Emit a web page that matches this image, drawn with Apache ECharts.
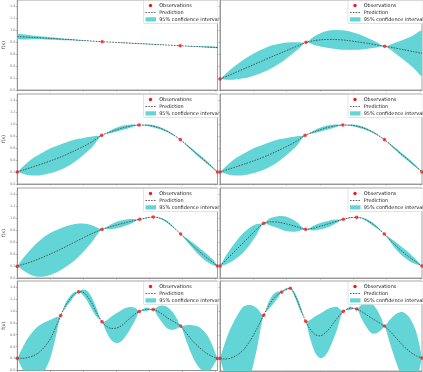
<!DOCTYPE html>
<html><head><meta charset="utf-8">
<script src="https://cdn.jsdelivr.net/npm/echarts@6/dist/echarts.min.js"></script>
<style>html,body{margin:0;padding:0;background:#fff}#c{width:423px;height:372px}</style>
</head><body><div id="c"></div><script>
// ---------- data ----------
const yTicks = [0, 0.2, 0.4, 0.6, 0.8, 1.0, 1.2, 1.4];
const xTicks = [0, 1, 2, 3, 4, 5, 6];
const legendLabels = ['Observations', 'Prediction', '95% confidence interval'];
const yLabel = 'f(x)';

// panel 1 (row 1, left)
const obsX1 = [2.57, 4.93];
const obsY1 = [0.805, 0.738];
const curveX1 = [0, 0.5, 1, 1.5, 2, 2.57, 3.2, 3.8, 4.4, 4.93, 5.5, 6.06];
const mean1 = [0.89, 0.875, 0.86, 0.843, 0.825, 0.805, 0.787, 0.77, 0.753, 0.738, 0.722, 0.708];
const half1 = [0.04, 0.03, 0.021, 0.013, 0.006, 0, 0.003, 0.004, 0.003, 0, 0.006, 0.012];

// panel 2 (row 1, right)
const obsX2 = [0, 2.58, 4.94];
const obsY2 = [0.183, 0.794, 0.728];
const curveX2 = [0, 0.25, 0.5, 0.75, 1, 1.29, 1.6, 1.9, 2.2, 2.4, 2.58, 2.8, 3.1, 3.4, 3.75, 4.1, 4.4, 4.7, 4.94, 5.2, 5.5, 5.8, 6.06];
const mean2 = [0.183, 0.24, 0.30, 0.36, 0.42, 0.49, 0.565, 0.635, 0.705, 0.75, 0.794, 0.82, 0.84, 0.843, 0.83, 0.805, 0.78, 0.752, 0.728, 0.705, 0.672, 0.64, 0.611];
const half2 = [0, 0.07, 0.12, 0.16, 0.185, 0.195, 0.185, 0.15, 0.09, 0.045, 0, 0.065, 0.125, 0.155, 0.16, 0.135, 0.095, 0.045, 0, 0.07, 0.165, 0.27, 0.37];

// panels 3 and 4 (row 2)
const obsX3 = [0, 2.555, 3.685, 4.935, 6.06];
const obsY3 = [0.2, 0.811, 0.983, 0.739, 0.2];
const curveX3 = [0, 0.25, 0.5, 0.8, 1.1, 1.4, 1.7, 2.0, 2.3, 2.555, 2.85, 3.15, 3.45, 3.685, 4.0, 4.3, 4.6, 4.935, 5.25, 5.5, 5.8, 6.06];
const mean3 = [0.2, 0.245, 0.29, 0.345, 0.405, 0.47, 0.545, 0.625, 0.715, 0.811, 0.875, 0.93, 0.968, 0.983, 0.975, 0.935, 0.86, 0.739, 0.59, 0.47, 0.33, 0.2];
const half3 = [0, 0.085, 0.15, 0.19, 0.21, 0.21, 0.19, 0.14, 0.08, 0, 0.025, 0.035, 0.025, 0, 0.015, 0.02, 0.015, 0, 0.02, 0.025, 0.02, 0];

// panel 5 (row 3, left)
const obsX5 = [0, 2.565, 3.705, 4.115, 4.945, 6.06];
const obsY5 = [0.194, 0.811, 0.978, 1.017, 0.733, 0.2];
const curveX5 = [0, 0.25, 0.5, 0.75, 1, 1.28, 1.55, 1.8, 2.05, 2.3, 2.565, 2.8, 3.05, 3.3, 3.5, 3.705, 3.9, 4.115, 4.3, 4.5, 4.7, 4.945, 5.2, 5.45, 5.75, 5.95, 6.06];
const mean5 = [0.2, 0.24, 0.285, 0.34, 0.4, 0.47, 0.545, 0.615, 0.685, 0.75, 0.811, 0.85, 0.89, 0.925, 0.952, 0.978, 1.0, 1.017, 1.0, 0.95, 0.86, 0.733, 0.6, 0.47, 0.33, 0.25, 0.2];
const half5 = [0, 0.14, 0.25, 0.32, 0.35, 0.35, 0.33, 0.29, 0.22, 0.12, 0, 0.035, 0.055, 0.05, 0.03, 0, 0.008, 0, 0.01, 0.015, 0.012, 0, 0.035, 0.06, 0.065, 0.04, 0];

// panel 6 (row 3, right)
const obsX6 = [0, 1.31, 2.57, 3.70, 4.10, 4.93, 6.06];
const obsY6 = [0.2, 0.911, 0.811, 0.978, 1.011, 0.733, 0.2];
const curveX6 = [0, 0.2, 0.4, 0.65, 0.9, 1.1, 1.31, 1.5, 1.75, 2.0, 2.3, 2.57, 2.8, 3.05, 3.3, 3.5, 3.7, 3.9, 4.1, 4.3, 4.5, 4.7, 4.93, 5.2, 5.45, 5.75, 6.06];
const mean6 = [0.2, 0.31, 0.42, 0.56, 0.7, 0.81, 0.911, 0.935, 0.93, 0.9, 0.855, 0.811, 0.83, 0.87, 0.91, 0.945, 0.978, 1.005, 1.011, 0.99, 0.93, 0.85, 0.733, 0.58, 0.45, 0.32, 0.2];
const half6 = [0, 0.08, 0.13, 0.16, 0.14, 0.09, 0, 0.06, 0.1, 0.12, 0.08, 0, 0.04, 0.055, 0.05, 0.03, 0, 0.008, 0, 0.012, 0.025, 0.02, 0, 0.05, 0.07, 0.06, 0];

// panel 7 (row 4, left)
const obsX7 = [0, 1.315, 1.855, 2.565, 3.695, 4.115, 4.945, 6.06];
const obsY7 = [0.206, 0.922, 1.317, 0.817, 0.989, 1.022, 0.744, 0.2];
const curveX7 = [0, 0.15, 0.3, 0.5, 0.65, 0.8, 1.0, 1.15, 1.315, 1.45, 1.6, 1.75, 1.855, 1.95, 2.1, 2.25, 2.4, 2.565, 2.7, 2.85, 3.0, 3.15, 3.3, 3.45, 3.6, 3.695, 3.9, 4.115, 4.25, 4.4, 4.55, 4.7, 4.85, 4.945, 5.1, 5.3, 5.5, 5.7, 5.85, 6.06];
const mean7 = [0.206, 0.205, 0.215, 0.25, 0.3, 0.38, 0.53, 0.71, 0.922, 1.08, 1.2, 1.29, 1.317, 1.32, 1.26, 1.13, 0.97, 0.817, 0.74, 0.705, 0.71, 0.75, 0.82, 0.895, 0.96, 0.989, 1.025, 1.022, 0.99, 0.94, 0.88, 0.83, 0.78, 0.744, 0.64, 0.5, 0.39, 0.3, 0.25, 0.2];
const half7 = [0, 0.17, 0.31, 0.42, 0.45, 0.42, 0.32, 0.18, 0, 0.04, 0.05, 0.03, 0, 0.035, 0.08, 0.1, 0.07, 0, 0.1, 0.2, 0.25, 0.26, 0.23, 0.17, 0.08, 0, 0.03, 0, 0.08, 0.15, 0.18, 0.15, 0.07, 0, 0.12, 0.26, 0.34, 0.33, 0.24, 0];

// panel 8 (row 4, right)
const obsX8 = [0, 1.31, 1.85, 2.11, 2.57, 3.70, 4.10, 4.93, 6.06];
const obsY8 = [0.21, 0.928, 1.317, 1.378, 0.828, 0.994, 1.033, 0.75, 0.217];
const curveX8 = [0, 0.15, 0.3, 0.5, 0.7, 0.9, 1.1, 1.31, 1.45, 1.6, 1.75, 1.85, 1.98, 2.11, 2.25, 2.4, 2.57, 2.7, 2.85, 3.0, 3.15, 3.3, 3.5, 3.7, 3.9, 4.1, 4.25, 4.4, 4.55, 4.7, 4.85, 4.93, 5.1, 5.3, 5.5, 5.7, 5.9, 6.06];
const mean8 = [0.21, 0.2, 0.21, 0.26, 0.35, 0.5, 0.7, 0.928, 1.08, 1.2, 1.28, 1.317, 1.36, 1.378, 1.26, 1.06, 0.828, 0.7, 0.61, 0.585, 0.63, 0.72, 0.87, 0.994, 1.045, 1.033, 0.99, 0.935, 0.88, 0.83, 0.78, 0.75, 0.66, 0.54, 0.42, 0.32, 0.25, 0.217];
const half8 = [0, 0.27, 0.48, 0.65, 0.72, 0.6, 0.35, 0, 0.06, 0.08, 0.05, 0, 0.02, 0, 0.04, 0.05, 0, 0.15, 0.3, 0.37, 0.38, 0.33, 0.2, 0, 0.03, 0, 0.12, 0.21, 0.25, 0.2, 0.09, 0, 0.2, 0.42, 0.56, 0.56, 0.38, 0];

const panels = [
  {ox: obsX1, oy: obsY1, cx: curveX1, m: mean1, h: half1},
  {ox: obsX2, oy: obsY2, cx: curveX2, m: mean2, h: half2},
  {ox: obsX3, oy: obsY3, cx: curveX3, m: mean3, h: half3},
  {ox: obsX3, oy: obsY3, cx: curveX3, m: mean3, h: half3},
  {ox: obsX5, oy: obsY5, cx: curveX5, m: mean5, h: half5},
  {ox: obsX6, oy: obsY6, cx: curveX6, m: mean6, h: half6},
  {ox: obsX7, oy: obsY7, cx: curveX7, m: mean7, h: half7},
  {ox: obsX8, oy: obsY8, cx: curveX8, m: mean8, h: half8}
];

// ---------- layout / style ----------
const rowTops = [0, 94, 188, 281];
const colLefts = [15.5, 220];
const plotW = 202, plotH = 90, xMax = 6.06;
const bandColor = '#63d5d6';
const spine = '#8a8a8a';
const font = 'DejaVu Sans';

const grid = [], xAxis = [], yAxis = [], series = [], graphic = [];

function bandRenderer(params, api) {
  if (params.dataIndex !== 0) return null;
  const up = [], lo = [];
  const cnt = params.dataInsideLength;
  for (let k = 0; k < cnt; k++) {
    up.push(api.coord([api.value(0, k), api.value(2, k)]));
    lo.push(api.coord([api.value(0, k), api.value(1, k)]));
  }
  const cs = params.coordSys;
  return {
    type: 'polygon', shape: {points: up.concat(lo.reverse()), smooth: 0.3},
    style: {fill: bandColor, stroke: null},
    clipPath: {type: 'rect', shape: {x: cs.x, y: cs.y, width: cs.width, height: cs.height}}
  };
}

panels.forEach((p, i) => {
  const row = Math.floor(i / 2), col = i % 2, right = col === 1;
  const zb = right ? 6 : 0;
  grid.push({left: colLefts[col], top: rowTops[row], width: plotW, height: plotH,
    show: true, borderColor: spine, borderWidth: 0.8, backgroundColor: 'transparent', z: zb});
  xAxis.push({gridIndex: i, type: 'value', min: 0, max: xMax, z: zb,
    axisLine: {show: true, onZero: false, lineStyle: {color: spine, width: 0.8}},
    axisTick: {show: true, length: 1.5, customValues: xTicks, lineStyle: {color: spine, width: 0.6}},
    axisLabel: {show: false, customValues: xTicks}, splitLine: {show: false}});
  yAxis.push({gridIndex: i, type: 'value', min: 0, max: 1.5, z: zb,
    name: right ? '' : yLabel, nameLocation: 'middle', nameGap: 9.5, nameRotate: 90,
    nameTextStyle: {fontSize: 4.6, color: '#444', fontFamily: font},
    axisLine: {show: true, onZero: false, lineStyle: {color: spine, width: 0.8}},
    axisTick: {show: true, length: 1.5, customValues: yTicks, lineStyle: {color: spine, width: 0.6}},
    axisLabel: {show: !right, customValues: yTicks, fontSize: 3.4, color: '#777', margin: 2,
      fontFamily: font, formatter: v => v.toFixed(1)},
    splitLine: {show: false}});
  const zs = right ? 7 : 1;
  series.push({type: 'custom', xAxisIndex: i, yAxisIndex: i, z: zs, silent: true,
    data: p.cx.map((x, k) => [x, p.m[k] - p.h[k], p.m[k] + p.h[k]]),
    encode: {x: 0, y: [1, 2]}, renderItem: bandRenderer});
  series.push({type: 'line', xAxisIndex: i, yAxisIndex: i,
    data: p.cx.map((x, k) => [x, p.m[k]]), symbol: 'none', smooth: 0.3,
    lineStyle: {color: '#3a3a3a', width: 0.8, type: [1.6, 1.2]}, z: zs + 1, silent: true});
  series.push({type: 'scatter', xAxisIndex: i, yAxisIndex: i,
    data: p.ox.map((x, k) => [x, p.oy[k]]), symbolSize: 3.6,
    itemStyle: {color: '#ee1a1a'}, z: zs + 2, silent: true});

  // legend box
  const bx = colLefts[col] + 128, by = rowTops[row] + 0.5;
  const lz = right ? 10 : 4;
  const txt = (t, y) => ({type: 'text', x: 15.7, y: y, z: lz,
    style: {text: t, fill: '#222', fontSize: 4.95, fontFamily: font, verticalAlign: 'middle'}});
  graphic.push({type: 'group', x: bx, y: by, z: lz, children: [
    {type: 'rect', z: lz, shape: {x: 0, y: 0, width: 80, height: 23, r: 1},
      style: {fill: 'rgba(255,255,255,0.85)', stroke: '#d0d0d0', lineWidth: 0.6}},
    {type: 'circle', z: lz, shape: {cx: 7, cy: 5, r: 1.7}, style: {fill: '#ee1a1a'}},
    {type: 'line', z: lz, shape: {x1: 2, y1: 12, x2: 12.5, y2: 12},
      style: {stroke: '#3a3a3a', lineWidth: 0.8, lineDash: [1.6, 1.2]}},
    {type: 'rect', z: lz, shape: {x: 2, y: 16.8, width: 10.5, height: 4.2}, style: {fill: bandColor}},
    txt(legendLabels[0], 5), txt(legendLabels[1], 12.2), txt(legendLabels[2], 19)
  ]});
});

// white backing for the right-hand pictures (they overlap the left ones)
rowTops.forEach(t => {
  graphic.push({type: 'rect', z: 5, shape: {x: 218.5, y: t - 1, width: 205, height: plotH + 3},
    style: {fill: '#fff'}});
});

const chart = echarts.init(document.getElementById('c'), null, {renderer: 'canvas'});
chart.setOption({animation: false, backgroundColor: '#fff', grid, xAxis, yAxis, series, graphic});
</script></body></html>
